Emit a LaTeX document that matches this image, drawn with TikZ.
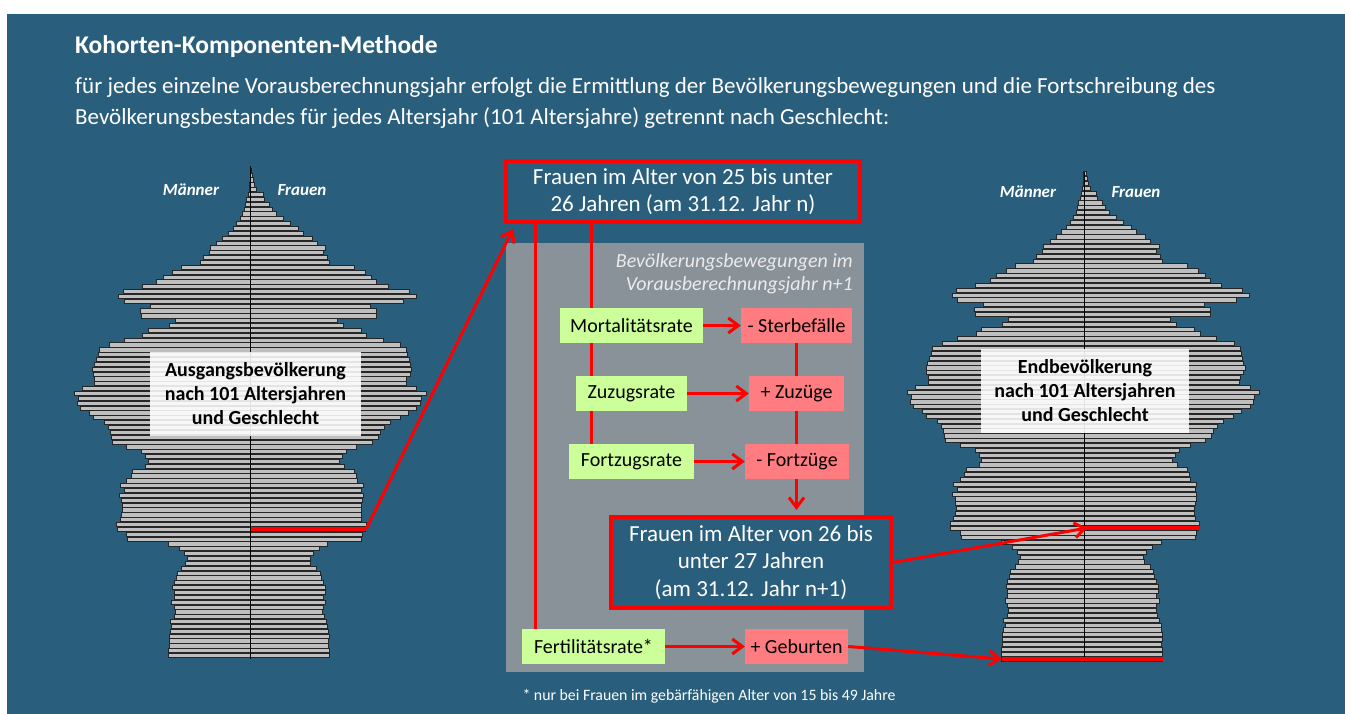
\documentclass[tikz,border=0pt]{standalone}
\usepackage{fontspec}
\setmainfont{Carlito}
\usetikzlibrary{arrows.meta,calc}
\definecolor{bgblue}{RGB}{41,95,125}
\definecolor{panelgray}{RGB}{137,145,153}
\definecolor{boxgreen}{RGB}{204,255,153}
\definecolor{boxpink}{RGB}{255,124,128}
\definecolor{barfill}{RGB}{191,191,191}
\definecolor{pure red}{RGB}{255,0,0}
\pgfdeclarelayer{back}
\pgfdeclarelayer{mid}
\pgfsetlayers{back,mid,main}
\def\pyrdata{82.3/78.7,82.3/78.7,81.7/77.7,81.3/78,81.7/78.3,80.7/77.7,79/77,80.7/75.3,76.3/73.7,75.7/72,
76.3/72.7,79/75,76.3/72.7,76.7/74.3,78/74.3,76.3/72.7,74.7/70.3,73.3/69.3,69/66,65.7/60,
63.3/59.3,66.3/62.7,71.3/68.3,82.3/77,123/111,124/112,133.3/114.7,134/115.3,130.7/111,129/110.3,
128/110.3,128.3/111,129/112,131.3/112.7,126.3/111,130.7/112.7,124/106.7,119.7/105.3,118/103.3,105/93.3,
102.3/88.3,105/91.3,109/95.3,124/106,138.3/121.7,139.7/127.7,140.7/129.3,142.3/133.3,146.3/139.3,157.3/149.3,
161.3/157.7,170.7/166,173.3/169.3,172.3/170.3,176.7/175.3,168.3/166,156/155.3,156/156,157.3/159.3,158/161,
156.3/159.3,154.7/158.3,152.3/157,151.3/156,141.3/150,126.3/132.7,108/116,102.3/110.7,81.3/92.7,75.7/86.7,
109/126,110/126,100.7/120,126.3/152.7,132/165.3,127.3/158.3,108.3/137.7,94/126,87.3/121,78/114.7,
69/103.3,50.7/78.7,47.3/76.7,41.7/72.7,40.7/75,34/66.7,28/61.7,22.3/52.7,17.3/47.7,14/39.3,
10.7/32.7,8/25.3,6.7/21.3,5.3/18.7,4/13.3,2.3/12.7,1.3/6,1/4,0.7/3,0.5/2,0.3/1}
\begin{document}
\begin{tikzpicture}[x=1pt,y=-1pt,
  txt/.style={inner sep=0pt,text=white},
  bar/.style={fill=barfill,draw=black!85,line width=0.7pt},
  axisline/.style={draw=black,line width=1pt},
  grn/.style={fill=boxgreen,inner sep=0pt,minimum height=35pt,text=black,font=\fontsize{20}{23}\selectfont},
  pnk/.style={fill=boxpink,inner sep=0pt,minimum height=35pt,text=black,font=\fontsize{20}{23}\selectfont},
  frame/.style={draw=pure red,line width=4pt,fill=bgblue,text=white,align=center,inner sep=0pt,font=\fontsize{23}{26.5}\selectfont},
  redline/.style={draw=pure red,line width=3pt},
  redbar/.style={draw=pure red,line width=4pt},
  redarr/.style={redline,-{Straight Barb[length=10pt,width=15pt]}},
  sexlbl/.style={inner sep=0pt,text=white,font=\bfseries\itshape\fontsize{17}{19}\selectfont},
  wbox/.style={fill=white,fill opacity=0.88,text opacity=1,text=black,align=center,inner sep=0pt,font=\bfseries\fontsize{20}{24}\selectfont}
]
\useasboundingbox (0,0) rectangle (1345,714);
\begin{pgfonlayer}{back}
\fill[white] (0,0) rectangle (1345,714);
\fill[bgblue] (7,14) rectangle (1345,714);
% left pyramid
\foreach \m/\w [count=\i from 0] in \pyrdata {
  \pgfmathsetmacro\yy{655.5-4.853*\i}
  \filldraw[bar] (250.7-\m,\yy-2.1) rectangle (250.7,\yy+2.1);
  \filldraw[bar] (250.7,\yy-2.1) rectangle (250.7+\w,\yy+2.1);
}
\draw[axisline] (250.7,166) -- (250.7,658.5);
% right pyramid
\filldraw[bar] (1084-82.3,659-2.1) rectangle (1084+78.7,659+2.1);
\foreach \m/\w [count=\i from 1] in \pyrdata {
  \ifnum\i<101
  \pgfmathsetmacro\yy{659-4.853*\i}
  \filldraw[bar] (1084-\m,\yy-2.1) rectangle (1084,\yy+2.1);
  \filldraw[bar] (1084,\yy-2.1) rectangle (1084+\w,\yy+2.1);
  \fi
}
\draw[axisline] (1084,172) -- (1084,662);
\node[wbox,minimum width=211pt,minimum height=84pt] (start) at (255.5,394) {Ausgangsbevölkerung\\nach 101 Altersjahren\\und Geschlecht};
\node[wbox,minimum width=208pt,minimum height=84pt] (end) at (1085,391) {Endbevölkerung\\nach 101 Altersjahren\\und Geschlecht};
% panel
\fill[panelgray] (506,243) rectangle (864,672);
\end{pgfonlayer}

% header text
\node[txt,anchor=base west,font=\bfseries\fontsize{25.5}{30}\selectfont] (title) at (75,54) {Kohorten-Komponenten-Methode};
\node[txt,anchor=base west,font=\fontsize{23}{27}\selectfont] (line1) at (75,94) {für jedes einzelne Vorausberechnungsjahr erfolgt die Ermittlung der Bevölkerungsbewegungen und die Fortschreibung des};
\node[txt,anchor=base west,font=\fontsize{23}{27}\selectfont] (line2) at (75,125) {Bevölkerungsbestandes für jedes Altersjahr (101 Altersjahre) getrennt nach Geschlecht:};

% pyramid labels
\node[sexlbl] (m1) at (191,190) {Männer};
\node[sexlbl] (f1) at (302,190) {Frauen};
\node[sexlbl] (m2) at (1028,192) {Männer};
\node[sexlbl] (f2) at (1136,192) {Frauen};

% panel caption
\node[inner sep=0pt,anchor=east,align=right,text=white!92!black,font=\itshape\fontsize{20}{23}\selectfont] (bew) at (853,273.5) {Bevölkerungsbewegungen im\\Vorausberechnungsjahr n+1};

% boxes
\node[frame,minimum width=354pt,minimum height=61pt] (top) at (683,191.5) {Frauen im Alter von 25 bis unter\\26 Jahren (am 31.12. Jahr n)};
\node[frame,minimum width=280pt,minimum height=91pt,font=\fontsize{23}{27.5}\selectfont] (bot) at (751,562.5) {Frauen im Alter von 26 bis\\unter 27 Jahren\\(am 31.12. Jahr n+1)};

\node[grn,minimum width=143pt] (mort) at (631.5,325.5) {Mortalitätsrate};
\node[grn,minimum width=111pt] (zuzr) at (631.5,393.5) {Zuzugsrate};
\node[grn,minimum width=125pt] (fortr) at (631.5,461.5) {Fortzugsrate};
\node[grn,minimum width=143pt] (fert) at (593.5,646.5) {Fertilitätsrate*};

\node[pnk,minimum width=111pt] (sterbe) at (796.5,325.5) {- Sterbefälle};
\node[pnk,minimum width=95pt] (zuz) at (796.5,393.5) {+ Zuzüge};
\node[pnk,minimum width=104pt] (fort) at (797,461.5) {- Fortzüge};
\node[pnk,minimum width=103pt] (geb) at (796.5,646.5) {+ Geburten};

\node[txt,font=\fontsize{15.8}{18}\selectfont] (foot) at (709,696) {* nur bei Frauen im gebärfähigen Alter von 15 bis 49 Jahre};

% connectors behind boxes
\begin{pgfonlayer}{mid}
\coordinate (v1) at ([xshift=14pt]fert.north west);
\draw[redline] (v1) -- (v1 |- top.south);
\coordinate (v2) at ([xshift=23pt]fortr.north west);
\draw[redline] (v2) -- (v2 |- top.south);
\coordinate (b1) at (sterbe.south |- bot.north);
\draw[redarr] (sterbe.south) -- ([yshift=5pt]b1);
\end{pgfonlayer}

% horizontal arrows
\draw[redarr] (mort.east) -- (sterbe.west);
\draw[redarr] (zuzr.east) -- (zuz.west);
\draw[redarr] (fortr.east) -- (fort.west);
\draw[redarr] (fert.east) -- (geb.west);

% pyramid links
\coordinate (lr0) at (250.7,529.3);
\coordinate (lr1) at (366,529.3);
\draw[redbar] (lr0) -- (lr1);
\draw[redarr,line join=round] (lr1) -- ([xshift=9pt,yshift=-5pt]top.south west);
\coordinate (rr0) at (1084,528);
\coordinate (rr1) at (1200,528);
\draw[redbar] (rr0) -- (rr1);
\draw[redarr] (bot.east) -- ([xshift=3pt]rr0);
\coordinate (rb0) at (1001.7,659);
\coordinate (rb1) at (1162.7,659);
\draw[redbar] (rb0) -- (rb1);
\draw[redarr] (geb.east) -- (rb0);
\end{tikzpicture}
\end{document}
